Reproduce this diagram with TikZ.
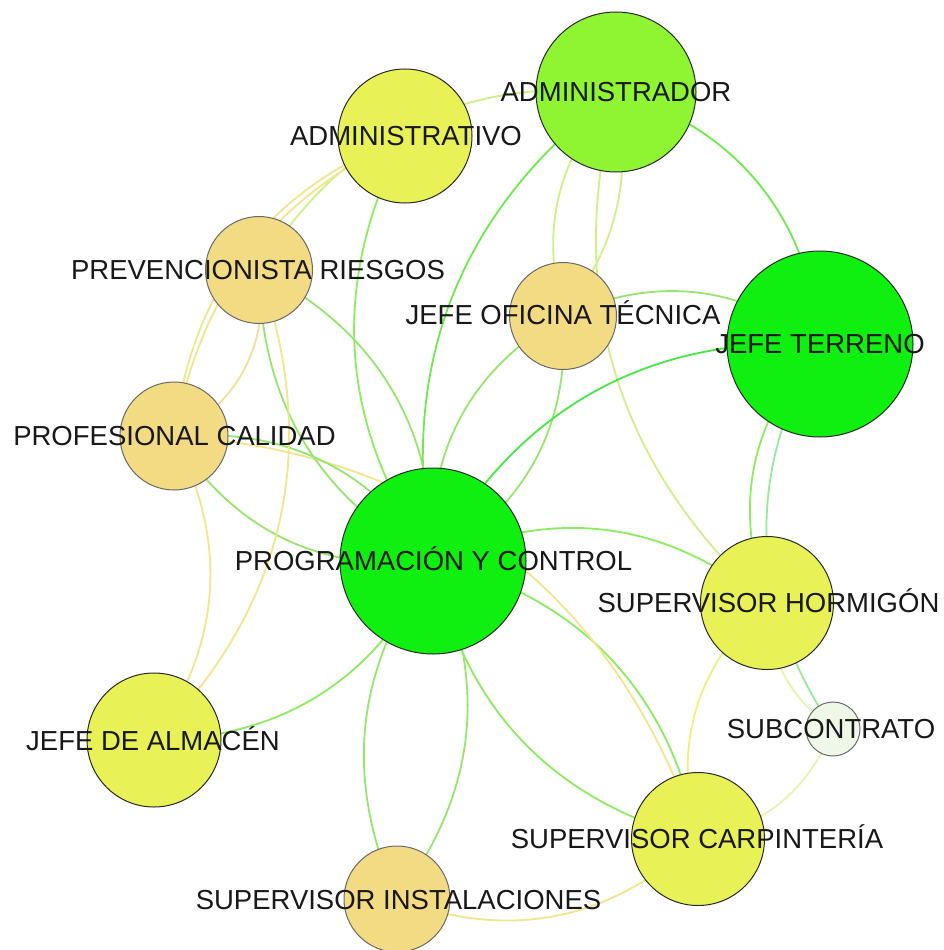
\documentclass[tikz,border=0pt]{standalone}
\usepackage{fontspec}
\setmainfont{Liberation Sans}
\pgfdeclarelayer{edges}
\pgfsetlayers{edges,main}

% node fills
\definecolor{cGreen}{RGB}{16,240,16}
\definecolor{cLime}{RGB}{143,245,50}
\definecolor{cYellow}{RGB}{232,242,86}
\definecolor{cTan}{RGB}{242,219,130}
\definecolor{cPale}{RGB}{239,248,232}
\definecolor{cRim}{RGB}{40,40,40}
\definecolor{cRimSoft}{RGB}{105,105,105}
\definecolor{cText}{RGB}{24,24,24}
% edge colours
\definecolor{eGG}{RGB}{70,232,70}
\definecolor{eGL}{RGB}{110,234,75}
\definecolor{eGY}{RGB}{140,236,95}
\definecolor{eGT}{RGB}{150,230,110}
\definecolor{eGW}{RGB}{150,236,150}
\definecolor{eLY}{RGB}{205,240,135}
\definecolor{eYT}{RGB}{240,230,140}
\definecolor{eTT}{RGB}{242,222,150}
\definecolor{eYY}{RGB}{236,242,125}
\definecolor{eYW}{RGB}{228,245,175}

\begin{document}
\begin{tikzpicture}[x=1pt,y=1pt,
  vtx/.style={circle,inner sep=0pt,line width=1pt},
  vgreen/.style={vtx,fill=cGreen,draw=cRim},
  vlime/.style={vtx,fill=cLime,draw=cRim},
  vyellow/.style={vtx,fill=cYellow,draw=cRim},
  vtan/.style={vtx,fill=cTan,draw=cRimSoft},
  vpale/.style={vtx,fill=cPale,draw=cRimSoft},
  lbl/.style={font=\fontsize{27.5}{30}\selectfont,text=cText,inner sep=0pt,
              text height=19.6pt,text depth=0pt},
  edge/.style={line width=1.8pt}]

\path[use as bounding box] (0,0) rectangle (944,-950);

% vertices
\node[vlime,  minimum size=160pt] (adr) at (616,-92)  {};
\node[vyellow,minimum size=134pt] (adv) at (405,-136) {};
\node[vtan,   minimum size=107pt] (prv) at (259,-270) {};
\node[vtan,   minimum size=107pt] (jot) at (563,-316) {};
\node[vgreen, minimum size=186pt] (jt)  at (820,-344) {};
\node[vtan,   minimum size=108pt] (pc)  at (174,-436) {};
\node[vgreen, minimum size=186pt] (pyc) at (433,-561) {};
\node[vyellow,minimum size=133pt] (sh)  at (767,-603) {};
\node[vpale,  minimum size=54pt]  (sub) at (833,-729) {};
\node[vyellow,minimum size=134pt] (ja)  at (154,-740) {};
\node[vyellow,minimum size=133pt] (sc)  at (698,-839) {};
\node[vtan,   minimum size=106pt] (si)  at (397,-899) {};

% labels
\node[lbl] (adr-t) at (616,-92)  {ADMINISTRADOR};
\node[lbl] (adv-t) at (406,-136) {ADMINISTRATIVO};
\node[lbl] (prv-t) at (258,-270) {PREVENCIONISTA RIESGOS};
\node[lbl] (jot-t) at (563,-315) {JEFE OFICINA TÉCNICA};
\node[lbl] (jt-t)  at (820,-344) {JEFE TERRENO};
\node[lbl] (pc-t)  at (174.5,-436) {PROFESIONAL CALIDAD};
\node[lbl] (pyc-t) at (433.5,-561) {PROGRAMACIÓN Y CONTROL};
\node[lbl] (sh-t)  at (768.5,-603) {SUPERVISOR HORMIGÓN};
\node[lbl] (sub-t) at (831,-729) {SUBCONTRATO};
\node[lbl] (ja-t)  at (153,-741) {JEFE DE ALMACÉN};
\node[lbl] (sc-t)  at (697,-839) {SUPERVISOR CARPINTERÍA};
\node[lbl] (si-t)  at (398.5,-900) {SUPERVISOR INSTALACIONES};

% connectors run centre to centre, kept beneath the vertices
\begin{pgfonlayer}{edges}
\fill[white] (0,0) rectangle (944,-950);

\draw[edge,eLY] (adr.center) to[bend right=32] (prv.center);
\draw[edge,eYT] (adv.center) to[bend right=27] (pc.center);
\draw[edge,eYT] (adv.center) to[bend right=31] (pc.center);
\draw[edge,eGY] (adv.center) to[bend right=31] (pyc.center);
\draw[edge,eGL] (adr.center) to[bend right=32] (pyc.center);
\draw[edge,eLY] (adr.center) to[bend right=28] (jot.center);
\draw[edge,eLY] (adr.center) to[bend left=24]  (jot.center);
\draw[edge,eLY] (adr.center) to[bend right=31] (sh.center);
\draw[edge,eGL] (adr.center) to[bend left=34]  (jt.center);
\draw[edge,eGT] (jot.center) to[bend left=30]  (jt.center);
\draw[edge,eGT] (jot.center) to[bend right=32] (pyc.center);
\draw[edge,eGT] (jot.center) to[bend left=32]  (pyc.center);
\draw[edge,eGG] (pyc.center) to[bend left=32]  (jt.center);
\draw[edge,eGY] (jt.center)  to[bend right=31] (sh.center);
\draw[edge,eGW] (jt.center)  to[bend right=32] (sub.center);
\draw[edge,eYW] (sh.center)  to[bend right=26] (sub.center);
\draw[edge,eGY] (pyc.center) to[bend left=32]  (sh.center);
\draw[edge,eGY] (pyc.center) to[bend left=33]  (sc.center);
\draw[edge,eGY] (pyc.center) to[bend right=32] (sc.center);
\draw[edge,eYT] (pc.center)  to[bend left=34]  (sc.center);
\draw[edge,eGT] (pc.center)  to[bend left=30]  (pyc.center);
\draw[edge,eGT] (pc.center)  to[bend right=32] (pyc.center);
\draw[edge,eGT] (prv.center) to[bend right=30] (pyc.center);
\draw[edge,eGT] (prv.center) to[bend left=32]  (pyc.center);
\draw[edge,eTT] (prv.center) to[bend left=36]  (pc.center);
\draw[edge,eYT] (prv.center) to[bend left=32]  (ja.center);
\draw[edge,eYT] (pc.center)  to[bend left=31]  (ja.center);
\draw[edge,eGY] (pyc.center) to[bend left=32]  (ja.center);
\draw[edge,eGT] (pyc.center) to[bend right=30] (si.center);
\draw[edge,eGT] (pyc.center) to[bend left=31]  (si.center);
\draw[edge,eYT] (si.center)  to[bend right=32] (sc.center);
\draw[edge,eYY] (sh.center)  to[bend right=32] (sc.center);
\draw[edge,eYW] (sub.center) to[bend left=28]  (sc.center);
\end{pgfonlayer}
\end{tikzpicture}
\end{document}
